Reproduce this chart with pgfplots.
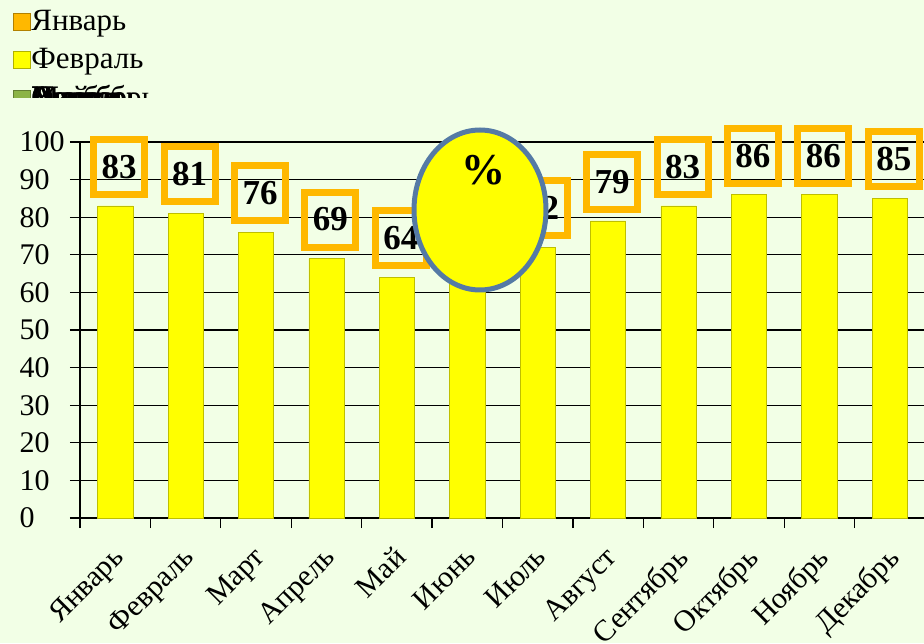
\documentclass[border=0pt]{standalone}
\usepackage{fontspec}
\setmainfont{Liberation Serif}
\usepackage{pgfplots}
\pgfplotsset{compat=1.18}
\definecolor{bgc}{RGB}{242,255,230}
\definecolor{gold}{RGB}{255,184,0}
\definecolor{ylw}{RGB}{255,255,0}
\definecolor{grn}{RGB}{140,180,70}
\definecolor{ellb}{RGB}{85,122,165}
\begin{document}
\begin{tikzpicture}
\fill[bgc] (0pt,0pt) rectangle (924pt,643pt);
\begin{axis}[
  at={(80pt,125pt)}, anchor=south west,
  scale only axis, width=845pt, height=376pt,
  xmin=-0.5, xmax=11.5, ymin=0, ymax=100,
  axis x line*=bottom, axis y line*=left,
  axis line style={-, black, line width=1.4pt},
  ytick={0,10,...,100},
  ymajorgrids, grid style={black, line width=1.3pt},
  xtick={-0.5,0.5,...,11.5},
  x tick label as interval,
  xticklabels={Январь,Февраль,Март,Апрель,Май,Июнь,Июль,Август,Сентябрь,Октябрь,Ноябрь,Декабрь},
  tick align=outside, major tick length=10pt,
  tick style={black, line width=1.3pt},
  xticklabel style={yshift=-12pt, xshift=-4pt, rotate=45, anchor=north east, font=\fontsize{30}{30}\selectfont},
  yticklabel style={anchor=west, xshift=-54pt, font=\fontsize{30}{30}\selectfont},
  /pgf/number format/assume math mode=true,
  ybar, bar width=0.5,
  legend style={at={(axis description cs:-0.083,1.364)}, anchor=north west,
    draw=none, fill=none, font=\fontsize{31}{31}\selectfont,
    row sep=7.5pt, nodes={inner sep=1pt, text height=22pt, text depth=7pt}},
  legend cell align=left,
]
\addplot[fill=ylw, draw=ylw!75!black, line width=0.6pt, forget plot, bar shift=0pt,
  nodes near coords,
  every node near coord/.append style={draw=gold, line width=7pt,
    minimum width=51pt, minimum height=55pt, fill=none, text height=, text depth=,
    font=\bfseries\fontsize{35}{35}\selectfont, yshift=8pt, xshift=4pt}]
  coordinates {(0,83) (1,81) (2,76) (3,69) (4,64) (5,68) (6,72) (7,79) (8,83) (9,86) (10,86) (11,85)};
\addlegendimage{legend image code/.code={\draw[fill=gold, draw=gold!70!black] (0pt,-7pt) rectangle (17pt,10pt);}}
\addlegendentry{Январь}
\addlegendimage{legend image code/.code={\draw[fill=ylw, draw=ylw!70!black] (0pt,-7pt) rectangle (17pt,10pt);}}
\addlegendentry{Февраль}
\addlegendimage{legend image code/.code={\draw[fill=grn, draw=grn!70!black] (0pt,-7pt) rectangle (17pt,10pt);}}
\addlegendentry{\rlap{Март}\rlap{Апрель}\rlap{Май}\rlap{Июнь}\rlap{Июль}\rlap{Август}\rlap{Сентябрь}\rlap{Октябрь}\rlap{Ноябрь}Декабрь}
\end{axis}
\fill[bgc] (0pt,518pt) rectangle (260pt,545pt);
\draw[fill=ylw, draw=ellb, line width=5pt] (480pt,433pt) ellipse (66pt and 80pt);
\node[font=\bfseries\fontsize{44}{44}\selectfont] at (483pt,473pt) {\%};
\pgfresetboundingbox
\useasboundingbox (0pt,0pt) rectangle (924pt,643pt);
\end{tikzpicture}
\end{document}
